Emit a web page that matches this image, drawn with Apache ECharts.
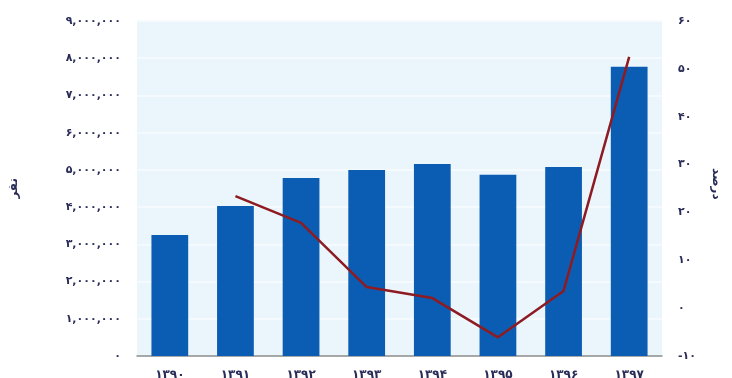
<!DOCTYPE html>
<html>
<head>
<meta charset="utf-8">
<script src="https://cdn.jsdelivr.net/npm/echarts@6/dist/echarts.min.js"></script>
<style>
html,body{margin:0;padding:0;background:#fff;}
#c{width:732px;height:378px;}
</style>
</head>
<body>
<div id="c"></div>
<script>
const categories = ['۱۳۹۰','۱۳۹۱','۱۳۹۲','۱۳۹۳','۱۳۹۴','۱۳۹۵','۱۳۹۶','۱۳۹۷'];
const people = [3250000, 4030000, 4780000, 5000000, 5160000, 4870000, 5080000, 7770000];
const growthPct = [null, 23.4, 17.8, 4.4, 2.1, -6.1, 3.6, 52.5];
const leftTitle = 'نفر';
const rightTitle = 'درصد';

const fa = ['۰','۱','۲','۳','۴','۵','۶','۷','۸','۹'];
function toFa(s){ return String(s).replace(/[0-9]/g, d => fa[+d]); }
function fmtThousands(v){
  const s = Math.round(v).toString().replace(/\B(?=(\d{3})+(?!\d))/g, ',');
  return toFa(s);
}

const labelFont = {fontFamily:'DejaVu Sans', fontSize:11, fontWeight:'bold', color:'#2a2c58'};

const chart = echarts.init(document.getElementById('c'));
chart.setOption({
  animation:false,
  backgroundColor:'#ffffff',
  grid:{left:137, right:70, top:21, bottom:22, show:true, backgroundColor:'#eaf5fc', borderWidth:0,
        containLabel:false, outerBoundsMode:'none'},
  xAxis:{
    type:'category', data:categories,
    axisLine:{show:true, lineStyle:{color:'#8c8c8c', width:1.5}},
    axisTick:{show:false},
    axisLabel:Object.assign({}, labelFont, {margin:13, fontSize:12})
  },
  yAxis:[
    {
      type:'value', min:0, max:9000000, interval:1000000,
      position:'left',
      axisLine:{show:false}, axisTick:{show:false},
      splitLine:{show:true, lineStyle:{color:'#f7fbfe', width:1.5}},
      axisLabel:Object.assign({margin:16, formatter:v=>fmtThousands(v)}, labelFont)
    },
    {
      type:'value', min:-10, max:60, interval:10,
      position:'right',
      axisLine:{show:false}, axisTick:{show:false},
      splitLine:{show:false},
      axisLabel:Object.assign({margin:16, formatter:v=> (v<0?'-':'') + toFa(Math.abs(v))}, labelFont)
    }
  ],
  graphic:[
    {type:'text', left:8, top:178, rotation:Math.PI/2,
     style:{text:leftTitle, font:'bold 12px "DejaVu Sans"', fill:'#2a2c58'}},
    {type:'text', left:710, top:168, rotation:-Math.PI/2,
     style:{text:rightTitle, font:'bold 12px "DejaVu Sans"', fill:'#2a2c58'}}
  ],
  series:[
    {type:'bar', data:people, yAxisIndex:0, barWidth:'56%',
     itemStyle:{color:'#0b5db3'}},
    {type:'line', data:growthPct, yAxisIndex:1, symbol:'none', smooth:false,
     lineStyle:{color:'#8e1b22', width:2.5}, connectNulls:false}
  ]
});
</script>
</body>
</html>
